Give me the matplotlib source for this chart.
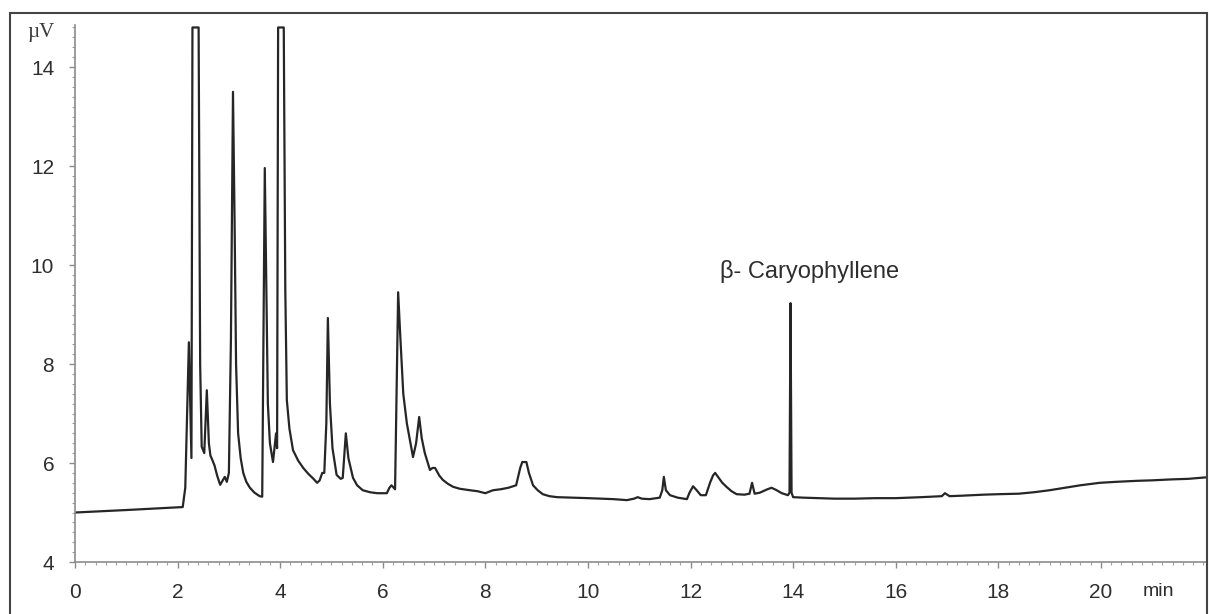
import numpy as np
import matplotlib
matplotlib.use("Agg")
import matplotlib.pyplot as plt
from matplotlib.ticker import MultipleLocator
from matplotlib.patches import Rectangle

# retention time (min) and detector signal (uV)
time_min = [0, 1.0, 2.1, 2.15, 2.19, 2.22, 2.25, 2.27, 2.29, 2.41, 2.44, 2.47, 2.52, 2.57,
            2.61, 2.64, 2.67, 2.72, 2.77, 2.83, 2.88, 2.92, 2.96, 3.0, 3.04, 3.08, 3.11,
            3.14, 3.18, 3.23, 3.28, 3.34, 3.41, 3.5, 3.6, 3.65, 3.67, 3.70, 3.73, 3.76,
            3.80, 3.86, 3.92, 3.94, 3.96, 4.07, 4.10, 4.13, 4.18, 4.25, 4.35, 4.45, 4.55,
            4.65, 4.72, 4.77, 4.82, 4.86, 4.90, 4.93, 4.97, 5.02, 5.10, 5.18, 5.22, 5.28,
            5.33, 5.42, 5.5, 5.61, 5.75, 5.89, 6.08, 6.13, 6.17, 6.24, 6.27, 6.30, 6.34,
            6.40, 6.47, 6.53, 6.59, 6.65, 6.71, 6.76, 6.82, 6.92, 6.97, 7.02, 7.1, 7.17,
            7.27, 7.37, 7.5, 7.7, 7.85, 8.0, 8.15, 8.3, 8.45, 8.6, 8.68, 8.72, 8.8, 8.85,
            8.93, 9.02, 9.12, 9.25, 9.4, 9.7, 10.0, 10.23, 10.5, 10.76, 10.9, 10.97, 11.05,
            11.2, 11.4, 11.45, 11.48, 11.52, 11.6, 11.75, 11.93, 11.98, 12.05, 12.12, 12.2,
            12.3, 12.38, 12.44, 12.48, 12.55, 12.62, 12.7, 12.8, 12.9, 13.05, 13.15, 13.2,
            13.25, 13.35, 13.5, 13.58, 13.68, 13.78, 13.9, 13.93, 13.95, 13.97, 14.0, 14.2,
            14.5, 14.8, 15.2, 15.6, 16.0, 16.5, 16.9, 16.96, 17.05, 17.3, 17.7, 18.0, 18.4,
            18.7, 19.0, 19.3, 19.6, 19.98, 20.3, 20.7, 21.0, 21.4, 21.7, 22.05]
signal_uv = [5.00, 5.05, 5.11, 5.5, 7.2, 8.44, 7.0, 6.1, 14.8, 14.8, 8.0, 6.33, 6.2, 7.47,
             6.4, 6.15, 6.08, 5.95, 5.75, 5.56, 5.65, 5.72, 5.62, 5.8, 8.5, 13.5, 11.0,
             8.0, 6.6, 6.1, 5.8, 5.62, 5.5, 5.4, 5.33, 5.32, 8.0, 11.96, 9.5, 7.2,
             6.4, 6.02, 6.6, 6.3, 14.8, 14.8, 9.5, 7.27, 6.7, 6.26, 6.05, 5.9, 5.78,
             5.68, 5.6, 5.65, 5.8, 5.8, 6.8, 8.93, 7.2, 6.3, 5.76, 5.68, 5.7, 6.6,
             6.1, 5.7, 5.55, 5.45, 5.41, 5.39, 5.39, 5.5, 5.55, 5.47, 7.5, 9.45, 8.6,
             7.4, 6.8, 6.46, 6.12, 6.4, 6.93, 6.5, 6.2, 5.86, 5.9, 5.9, 5.75, 5.66,
             5.58, 5.52, 5.48, 5.45, 5.43, 5.39, 5.45, 5.47, 5.5, 5.55, 5.9, 6.02, 6.02, 5.8,
             5.55, 5.45, 5.37, 5.33, 5.31, 5.3, 5.29, 5.28, 5.27, 5.25, 5.28, 5.31, 5.28,
             5.27, 5.3, 5.45, 5.72, 5.45, 5.35, 5.3, 5.27, 5.4, 5.53, 5.45, 5.35,
             5.35, 5.6, 5.75, 5.8, 5.7, 5.6, 5.52, 5.43, 5.37, 5.36, 5.38, 5.6,
             5.38, 5.4, 5.47, 5.5, 5.45, 5.39, 5.35, 5.4, 9.23, 5.4, 5.31, 5.3,
             5.29, 5.28, 5.28, 5.29, 5.29, 5.31, 5.33, 5.39, 5.33, 5.34, 5.36, 5.37, 5.38,
             5.41, 5.45, 5.5, 5.55, 5.6, 5.62, 5.64, 5.65, 5.67, 5.68, 5.71]

xticks = [0, 2, 4, 6, 8, 10, 12, 14, 16, 18, 20]
yticks = [4, 6, 8, 10, 12, 14]
peak_label = "β- Caryophyllene"
peak_pos = (14.33, 9.86)

W, H = 1209, 614
fig = plt.figure(figsize=(W / 100, H / 100), dpi=100)
ax = fig.add_axes([75 / W, 1 - 562 / H, 1131 / W, 537 / H])

ax.plot(time_min, signal_uv, color="#262626", lw=1.6, clip_on=True)
ax.set_xlim(0, 22.05)
ax.set_ylim(4, 14.85)

ax.set_xticks(xticks)
ax.set_yticks(yticks)
ax.xaxis.set_minor_locator(MultipleLocator(0.2))
ax.yaxis.set_minor_locator(MultipleLocator(0.2))
for s in ["top", "right"]:
    ax.spines[s].set_visible(False)
for s in ["left", "bottom"]:
    ax.spines[s].set_color("#8c8c8c")
    ax.spines[s].set_linewidth(1.2)
ax.tick_params(which="major", length=4, width=1, color="#8c8c8c", pad=11,
               labelsize=15, labelcolor="#2e2e2e")
ax.tick_params(which="minor", length=2, width=0.8, color="#a0a0a0")
for lab in ax.get_xticklabels() + ax.get_yticklabels():
    lab.set_family("Liberation Sans")

ax.text(peak_pos[0], peak_pos[1], peak_label, ha="center", va="center",
        fontsize=17, family="Liberation Sans", color="#2e2e2e")

fig.text(27 / W, 1 - 33 / H, "µV", ha="left", va="center", fontsize=15,
         family="Liberation Serif", color="#3a3a3a")
fig.text(1158 / W, 1 - 592 / H, "min", ha="center", va="center", fontsize=14,
         family="Liberation Sans", color="#2e2e2e")

# outer frame around the figure
fig.patches.append(Rectangle((10 / W, -0.05), 1197 / W, 1.05 - 13 / H,
                             transform=fig.transFigure, fill=False,
                             edgecolor="#444444", lw=1.5))

fig.savefig("out.png", dpi=100)
